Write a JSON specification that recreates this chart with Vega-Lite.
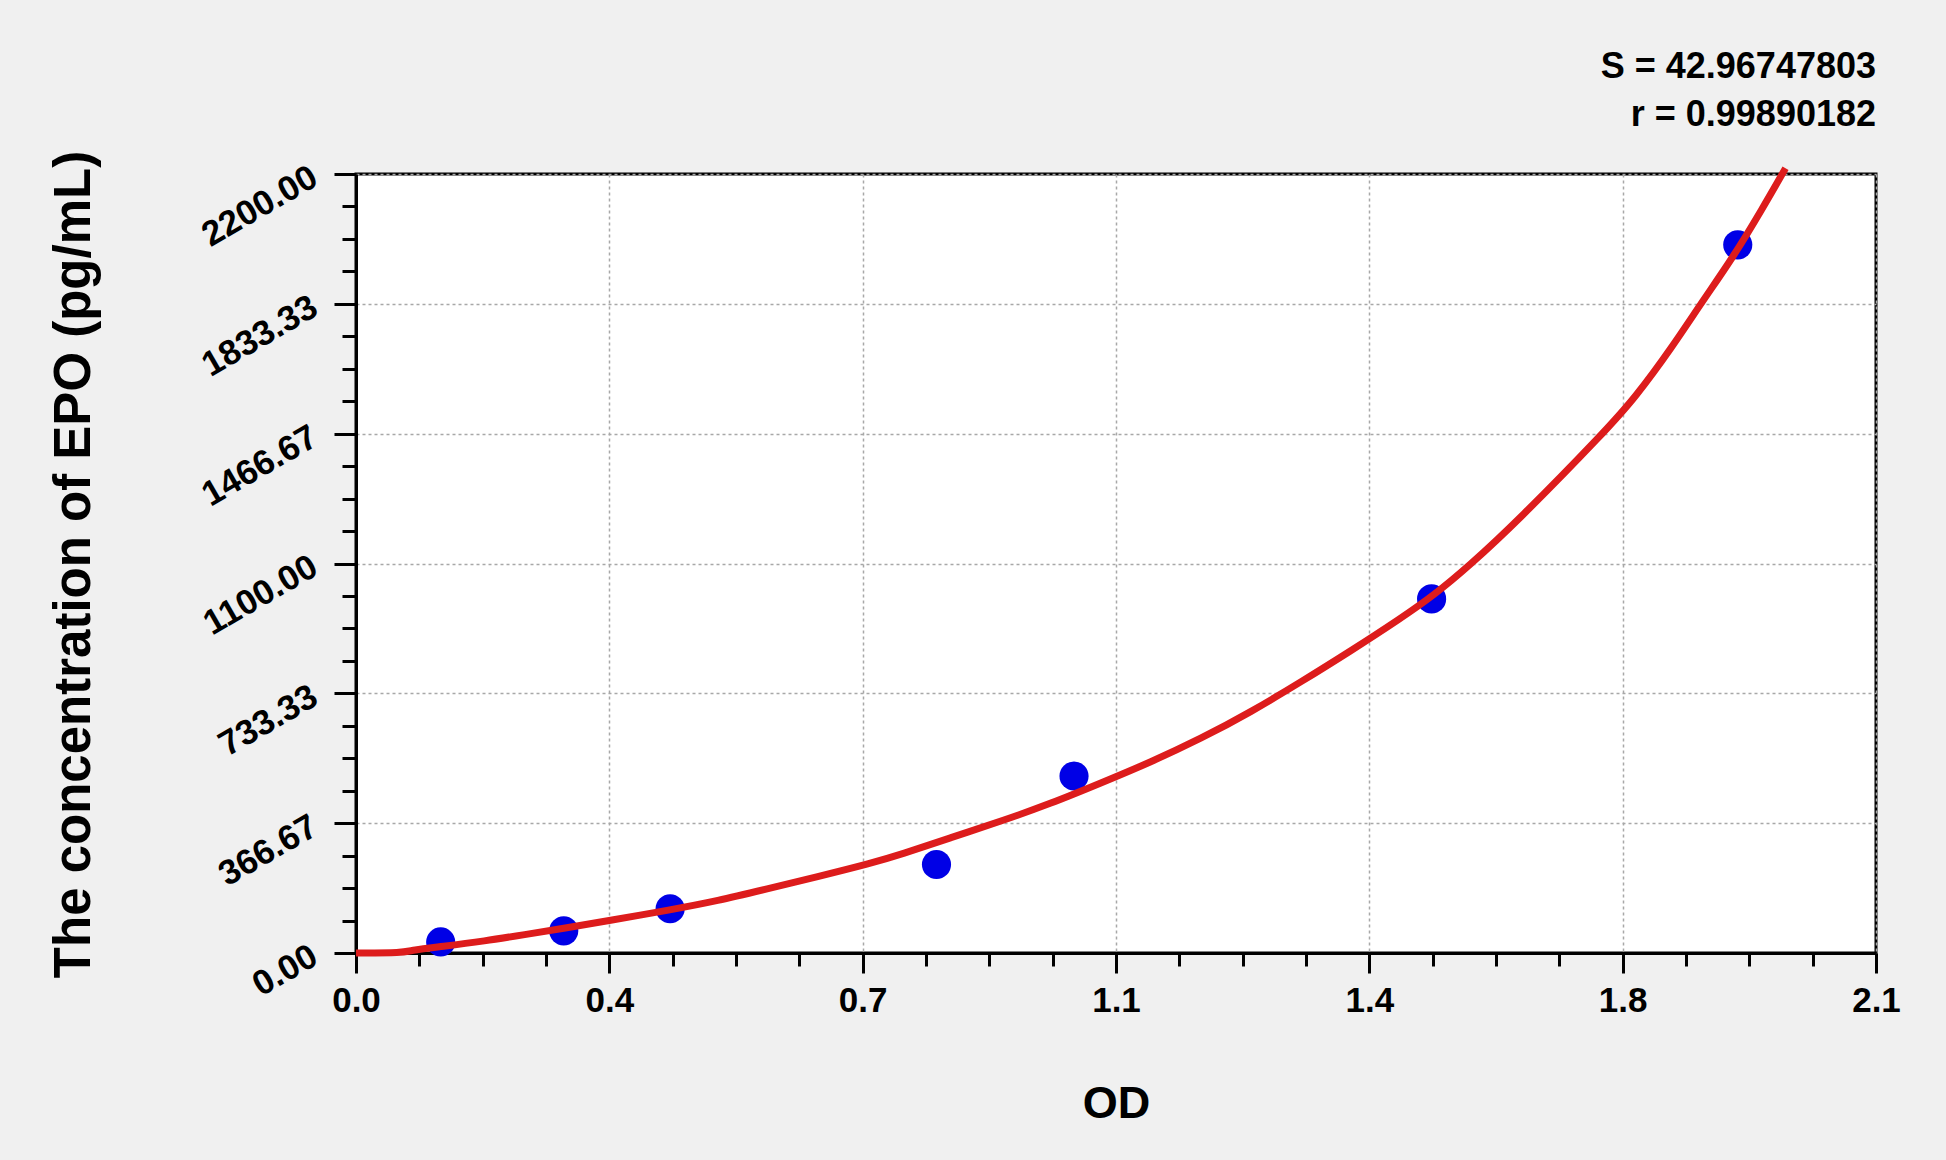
{
  "$schema": "https://vega.github.io/schema/vega-lite/v6.json",
  "description": "EPO standard curve",
  "width": 1520,
  "height": 779,
  "autosize": {"type": "none"},
  "padding": {"left": 356, "top": 174, "right": 70, "bottom": 207},
  "background": "#f0f0f0",
  "view": {"fill": "white", "stroke": "black", "strokeWidth": 3},
  "title": {
    "text": ["S = 42.96747803", "r = 0.99890182"],
    "anchor": "end",
    "frame": "group",
    "font": "Liberation Sans",
    "fontSize": 36,
    "fontWeight": "bold",
    "color": "black",
    "lineHeight": 48,
    "offset": 16
  },
  "datasets": {
    "standards": [
      {"od": 0.117, "conc": 31.25},
      {"od": 0.287, "conc": 62.5},
      {"od": 0.434, "conc": 125},
      {"od": 0.802, "conc": 250},
      {"od": 0.992, "conc": 500},
      {"od": 1.486, "conc": 1000},
      {"od": 1.909, "conc": 2000}
    ],
    "curve": [
      {"od": 0.0, "conc": 0},
      {"od": 0.065, "conc": 0},
      {"od": 0.077, "conc": 8},
      {"od": 0.118, "conc": 18},
      {"od": 0.178, "conc": 34},
      {"od": 0.233, "conc": 52},
      {"od": 0.288, "conc": 70},
      {"od": 0.35, "conc": 92},
      {"od": 0.435, "conc": 122},
      {"od": 0.499, "conc": 147},
      {"od": 0.568, "conc": 181},
      {"od": 0.637, "conc": 215},
      {"od": 0.711, "conc": 253},
      {"od": 0.753, "conc": 278},
      {"od": 0.822, "conc": 326},
      {"od": 0.891, "conc": 372},
      {"od": 0.96, "conc": 422},
      {"od": 1.029, "conc": 480},
      {"od": 1.098, "conc": 539},
      {"od": 1.167, "conc": 605},
      {"od": 1.236, "conc": 680},
      {"od": 1.305, "conc": 765},
      {"od": 1.375, "conc": 854},
      {"od": 1.444, "conc": 946},
      {"od": 1.49, "conc": 1012},
      {"od": 1.536, "conc": 1090},
      {"od": 1.606, "conc": 1222},
      {"od": 1.726, "conc": 1474},
      {"od": 1.767, "conc": 1568},
      {"od": 1.818, "conc": 1710},
      {"od": 1.86, "conc": 1840},
      {"od": 1.902, "conc": 1963},
      {"od": 1.943, "conc": 2102},
      {"od": 1.975, "conc": 2216}
    ]
  },
  "resolve": {"axis": {"x": "independent", "y": "independent"}},
  "layer": [
    {
      "data": {"name": "standards"},
      "mark": {"type": "point", "filled": true, "shape": "circle", "size": 850, "color": "#0000e6", "opacity": 1},
      "encoding": {
        "x": {
          "field": "od",
          "type": "quantitative",
          "scale": {"domain": [0, 2.1], "nice": false, "zero": false},
          "axis": {
            "orient": "bottom",
            "values": [0, 0.35, 0.7, 1.05, 1.4, 1.75, 2.1],
            "labelExpr": "format(datum.value + 0.0001, '.1f')",
            "labelFont": "Liberation Sans",
            "labelFontSize": 35,
            "labelFontWeight": "bold",
            "labelColor": "black",
            "labelPadding": 10,
            "labelFlush": false,
            "labelOverlap": false,
            "tickSize": 20,
            "tickWidth": 3,
            "tickColor": "black",
            "domainColor": "black",
            "domainWidth": 3,
            "grid": true,
            "gridColor": "#a8a8a8",
            "gridDash": [3, 3],
            "gridWidth": 1.5,
            "title": "OD",
            "titleFont": "Liberation Sans",
            "titleFontSize": 45,
            "titleFontWeight": "bold",
            "titleColor": "black",
            "titleX": 760,
            "titleY": 164,
            "titleAlign": "center",
            "titleBaseline": "alphabetic"
          }
        },
        "y": {
          "field": "conc",
          "type": "quantitative",
          "scale": {"domain": [0, 2200], "nice": false},
          "axis": {
            "orient": "left",
            "values": [0, 366.6667, 733.3333, 1100, 1466.6667, 1833.3333, 2200],
            "format": ".2f",
            "labelFont": "Liberation Sans",
            "labelFontSize": 35,
            "labelFontWeight": "bold",
            "labelColor": "black",
            "labelAngle": -30,
            "labelAlign": "right",
            "labelBaseline": "middle",
            "labelPadding": 20,
            "labelOverlap": false,
            "labelFlush": false,
            "tickSize": 22,
            "tickWidth": 3,
            "tickColor": "black",
            "domainColor": "black",
            "domainWidth": 3,
            "grid": true,
            "gridColor": "#a8a8a8",
            "gridDash": [3, 3],
            "gridWidth": 1.5,
            "title": "The concentration of EPO (pg/mL)",
            "titleFont": "Liberation Sans",
            "titleFontSize": 51,
            "titleFontWeight": "bold",
            "titleColor": "black",
            "titleAngle": 270,
            "titleX": -267,
            "titleY": 390,
            "titleAlign": "center",
            "titleBaseline": "alphabetic"
          }
        }
      }
    },
    {
      "data": {"name": "curve"},
      "mark": {"type": "line", "color": "#dd1c1c", "strokeWidth": 7, "interpolate": "basis"},
      "encoding": {
        "x": {
          "field": "od",
          "type": "quantitative",
          "axis": {
            "orient": "bottom",
            "values": [0.0875, 0.175, 0.2625, 0.4375, 0.525, 0.6125, 0.7875, 0.875, 0.9625, 1.1375, 1.225, 1.3125, 1.4875, 1.575, 1.6625, 1.8375, 1.925, 2.0125],
            "labels": false,
            "grid": false,
            "domain": false,
            "title": null,
            "tickSize": 13,
            "tickWidth": 3,
            "tickColor": "black"
          }
        },
        "y": {
          "field": "conc",
          "type": "quantitative",
          "axis": {
            "orient": "left",
            "values": [91.6667, 183.3333, 275, 458.3333, 550, 641.6667, 825, 916.6667, 1008.3333, 1191.6667, 1283.3333, 1375, 1558.3333, 1650, 1741.6667, 1925, 2016.6667, 2108.3333],
            "labels": false,
            "grid": false,
            "domain": false,
            "title": null,
            "tickSize": 14,
            "tickWidth": 3,
            "tickColor": "black"
          }
        }
      }
    }
  ]
}
